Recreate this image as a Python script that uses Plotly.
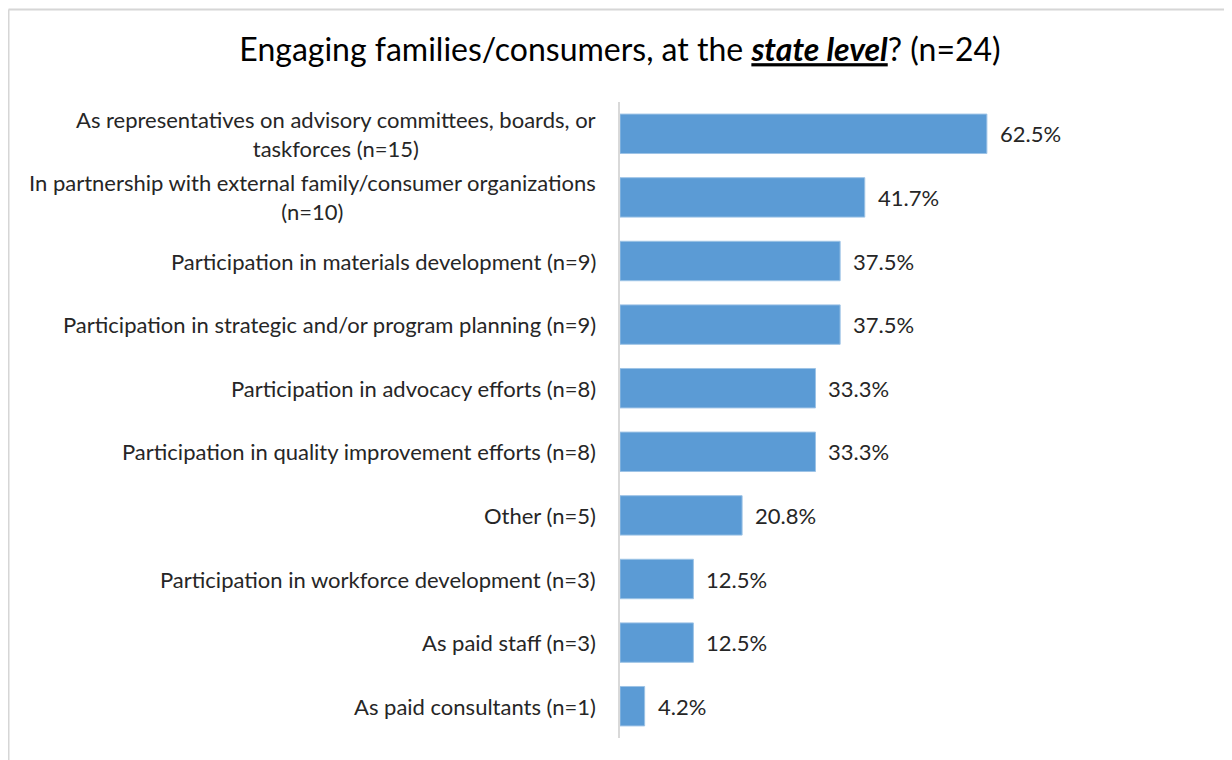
import plotly.graph_objects as go

categories = [
    "As representatives on advisory committees, boards, or<br>taskforces (n=15)",
    "In partnership with external family/consumer organizations<br>(n=10)",
    "Participation in materials development (n=9)",
    "Participation in strategic and/or program planning (n=9)",
    "Participation in advocacy efforts (n=8)",
    "Participation in quality improvement efforts (n=8)",
    "Other (n=5)",
    "Participation in workforce development (n=3)",
    "As paid staff (n=3)",
    "As paid consultants (n=1)",
]
values = [62.5, 41.7, 37.5, 37.5, 33.3, 33.3, 20.8, 12.5, 12.5, 4.2]
value_labels = ["62.5%", "41.7%", "37.5%", "37.5%", "33.3%", "33.3%", "20.8%", "12.5%", "12.5%", "4.2%"]

FONT = "Lato"
TXT = "#262626"

fig = go.Figure()
fig.add_trace(go.Bar(
    y=categories, x=values, orientation="h",
    marker=dict(color="#5B9BD5", line=dict(color="#9DC3E6", width=1)),
    width=0.62, hoverinfo="skip",
))

annotations = []
for c, v, lab in zip(categories, values, value_labels):
    annotations.append(dict(x=0, y=c, xref="x", yref="y", text=c, showarrow=False,
                            xanchor="right", yanchor="middle", align="center", xshift=-22,
                            font=dict(family=FONT, size=22, color=TXT)))
    annotations.append(dict(x=v, y=c, xref="x", yref="y", text=lab, showarrow=False,
                            xanchor="left", yanchor="middle", xshift=11,
                            font=dict(family=FONT, size=22, color=TXT)))

# page is offset by the default 8px body margin
OFF = 8
W, H = 1232, 760
L, T = 620 - OFF, 102 - OFF
R = OFF + W - 1207
B = OFF + H - 738
pw, ph = W - L - R, H - T - B
def px(xpage): return (xpage - OFF - L) / pw
def py(ypage): return (H - B - (ypage - OFF)) / ph

shapes = [
    dict(type="line", xref="paper", yref="paper", x0=px(8.5), x1=px(1240), y0=py(9.5), y1=py(9.5),
         line=dict(color="#d6d6d6", width=2)),
    dict(type="line", xref="paper", yref="paper", x0=px(8.5), x1=px(8.5), y0=py(9.5), y1=py(770),
         line=dict(color="#d6d6d6", width=2)),
]

fig.update_layout(
    width=W, height=H,
    margin=dict(l=L, r=R, t=T, b=B),
    paper_bgcolor="white", plot_bgcolor="white",
    showlegend=False,
    title=dict(text="Engaging families/consumers, at the <b><i><u>state level</u></i></b>? (n=24)",
               x=(620 - OFF) / W, xanchor="center", y=1 - (50 - OFF) / H, yanchor="middle",
               font=dict(family=FONT, size=32, color="#000000")),
    xaxis=dict(range=[0, 100], visible=False, fixedrange=True),
    yaxis=dict(autorange="reversed", showticklabels=False, ticks="", showgrid=False,
               showline=True, linecolor="#d9d9d9", linewidth=1.5, zeroline=False),
    annotations=annotations, shapes=shapes,
)

fig.write_html("out.html")
